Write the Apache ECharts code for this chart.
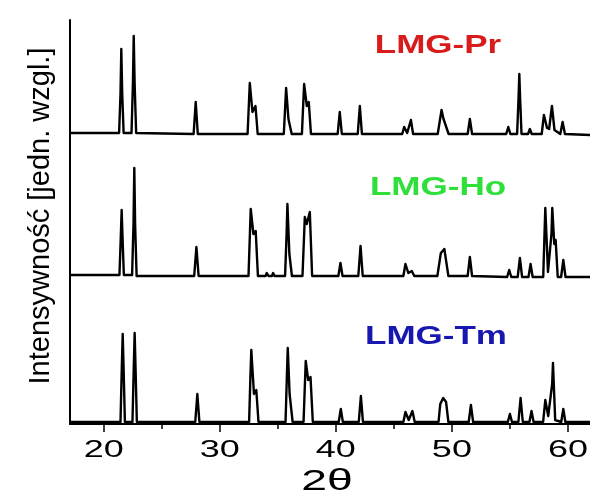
<!DOCTYPE html>
<html>
<head>
<meta charset="utf-8">
<script src="https://cdn.jsdelivr.net/npm/echarts@6/dist/echarts.min.js"></script>
<style>html,body{margin:0;padding:0;background:#fff}#c{width:590px;height:495px}</style>
</head>
<body>
<div id="c"></div>
<script>
// 2θ tick values and labels
const xTicks = [20, 30, 40, 50, 60];
const xMinorTicks = [25, 35, 45, 55];
const xTickLabels = ['20', '30', '40', '50', '60'];
const xName = '2θ';
const yName = 'Intensywność [jedn. wzgl.]';
const seriesNames = ['LMG-Pr', 'LMG-Ho', 'LMG-Tm'];
const seriesColors = ['#d81b1b', '#2fe03a', '#1818b0'];

// traces: [2θ, intensity (stacked, arbitrary units)]
const prData = [
  [17.1,291],
  [21.33,291],[21.45,330],[21.52,375],[21.6,330],[21.72,291],
  [22.4,291],[22.52,340],[22.59,388],[22.67,340],[22.8,291],
  [27.75,290],[27.93,322],[28.11,290],
  [32.4,290],[32.59,341],[32.82,312],[33.08,318],[33.27,290],
  [35.52,290],[35.72,336],[35.92,305],[36.03,307],[36.2,290],
  [37.08,290],[37.27,340],[37.5,318],[37.67,322],[37.86,290],
  [40.16,290],[40.34,312],[40.52,290],
  [41.89,290],[42.07,318],[42.25,290],
  [45.72,290],[45.89,297],[46.15,291],[46.47,304],[46.66,290],
  [48.78,290],[49.11,314],[49.28,305],[49.4,306],[49.72,290],
  [51.36,290],[51.55,305],[51.74,290],
  [54.68,290],[54.86,297],[55.04,290],
  [55.62,290],[55.74,325],[55.81,350],[55.88,325],[56.0,290],
  [56.56,290],[56.72,295],[56.88,290],
  [57.74,290],[57.93,309],[58.2,296],[58.38,295],[58.62,318],[58.84,294],
  [59.34,290],[59.54,302],[59.74,290],
  [61.9,289]
];
const hoData = [
  [17.1,149],
  [21.36,149],[21.47,185],[21.55,214],[21.63,185],[21.74,149],
  [22.45,149],[22.57,200],[22.64,256],[22.71,200],[22.84,148],
  [27.8,148],[27.99,177],[28.18,148],
  [32.48,148],[32.67,215],[32.9,190],[33.1,193],[33.29,148],
  [33.95,148],[34.05,151],[34.2,148],[34.5,148],[34.6,151],[34.72,148],
  [35.63,148],[35.76,190],[35.83,220],[36.0,170],[36.05,168],[36.22,148],
  [37.13,148],[37.33,207],[37.5,200],[37.76,212],[37.96,148],
  [40.22,148],[40.4,161],[40.58,148],
  [41.94,148],[42.13,178],[42.32,148],
  [45.82,148],[46.0,160],[46.25,151],[46.55,153],[46.76,148],
  [48.75,148],[49.05,171],[49.2,170],[49.35,175],[49.7,148],
  [51.36,148],[51.55,167],[51.74,148],
  [54.76,147],[54.94,154],[55.12,147],
  [55.67,147],[55.86,166],[56.05,147],
  [56.6,147],[56.78,160],[56.96,147],
  [57.87,147],[57.98,190],[58.05,216],[58.28,152],[58.4,150],[58.58,190],[58.65,216],[58.82,180],[58.94,184],[59.12,147],
  [59.41,147],[59.6,164],[59.79,147],
  [61.9,147]
];
const tmData = [
  [17.1,2],
  [21.45,2],[21.56,55],[21.64,90],[21.72,55],[21.83,2],
  [22.48,2],[22.59,55],[22.67,91],[22.75,55],[22.86,2],
  [27.89,2],[28.07,30],[28.25,2],
  [32.53,2],[32.65,50],[32.72,74],[32.95,30],[33.15,34],[33.34,2],
  [35.67,2],[35.79,50],[35.86,76],[36.02,30],[36.1,31],[36.28,2],
  [37.22,2],[37.41,63],[37.62,44],[37.82,47],[38.02,2],
  [40.25,2],[40.43,15],[40.61,2],
  [41.98,2],[42.16,28],[42.34,2],
  [45.82,2],[46.0,12],[46.28,4],[46.6,13],[46.8,2],
  [48.85,2],[49.0,20],[49.25,26],[49.5,22],[49.7,2],
  [51.45,2],[51.64,19],[51.83,2],
  [54.82,2],[55.0,10],[55.18,2],
  [55.73,2],[55.92,26],[56.11,2],
  [56.68,2],[56.86,13],[57.04,2],
  [57.86,2],[58.05,24],[58.3,8],[58.45,8],[58.64,40],[58.71,61],[58.9,4],
  [59.42,2],[59.6,15],[59.78,2],
  [61.9,2]
];
const traces = [prData, hoData, tmData];

const FONT = '"Liberation Sans", Arial, sans-serif';
const chart = echarts.init(document.getElementById('c'), null, {renderer: 'canvas'});

chart.setOption({
  animation: false,
  backgroundColor: '#fff',
  grid: {left: 70, right: 0, top: 20, bottom: 71},
  xAxis: [{
    type: 'value', min: 17.1, max: 61.9, position: 'bottom',
    axisLine: {show: true, onZero: false, lineStyle: {color: '#000', width: 2}},
    axisTick: {show: true, customValues: xTicks, length: 8, lineStyle: {color: '#000', width: 1.5}},
    axisLabel: {show: false},
    splitLine: {show: false}
  }, {
    type: 'value', min: 17.1, max: 61.9, position: 'bottom',
    axisLine: {show: false, onZero: false},
    axisTick: {show: true, customValues: xMinorTicks, length: 5, lineStyle: {color: '#000', width: 1.5}},
    axisLabel: {show: false},
    splitLine: {show: false}
  }],
  yAxis: {
    type: 'value', min: 0, max: 404,
    axisLine: {show: true, lineStyle: {color: '#000', width: 2}},
    axisTick: {show: false}, axisLabel: {show: false}, splitLine: {show: false},
    name: yName, nameLocation: 'middle', nameRotate: 90, nameGap: 15,
    nameTextStyle: {fontFamily: FONT, fontSize: 29, color: '#000', padding: [0, 0, 0, 12]}
  },
  series: traces.map((d, i) => ({
    name: seriesNames[i], type: 'line', data: d, xAxisIndex: 0,
    showSymbol: false, symbol: 'none', smooth: false,
    lineStyle: {color: '#000', width: 2.4, join: 'round'}
  }))
});

const labelPos = [[438, 46], [438, 188], [436, 337]];
const graphics = [];
xTicks.forEach((v, i) => {
  const px = chart.convertToPixel({xAxisIndex: 0}, v);
  graphics.push({type: 'text', x: px, y: 450, scaleX: 1.5, silent: true,
    style: {text: xTickLabels[i], font: '24px ' + FONT, fill: '#000', align: 'center', verticalAlign: 'middle'}});
});
graphics.push({type: 'text', x: 327, y: 482, scaleX: 1.6, silent: true,
  style: {text: xName, font: '29px ' + FONT, fill: '#000', align: 'center', verticalAlign: 'middle'}});
seriesNames.forEach((n, i) => {
  graphics.push({type: 'text', x: labelPos[i][0], y: labelPos[i][1], scaleX: 1.4, silent: true,
    style: {text: n, font: 'bold 25px ' + FONT, fill: seriesColors[i], align: 'center', verticalAlign: 'middle'}});
});
chart.setOption({graphic: graphics});
</script>
</body>
</html>
